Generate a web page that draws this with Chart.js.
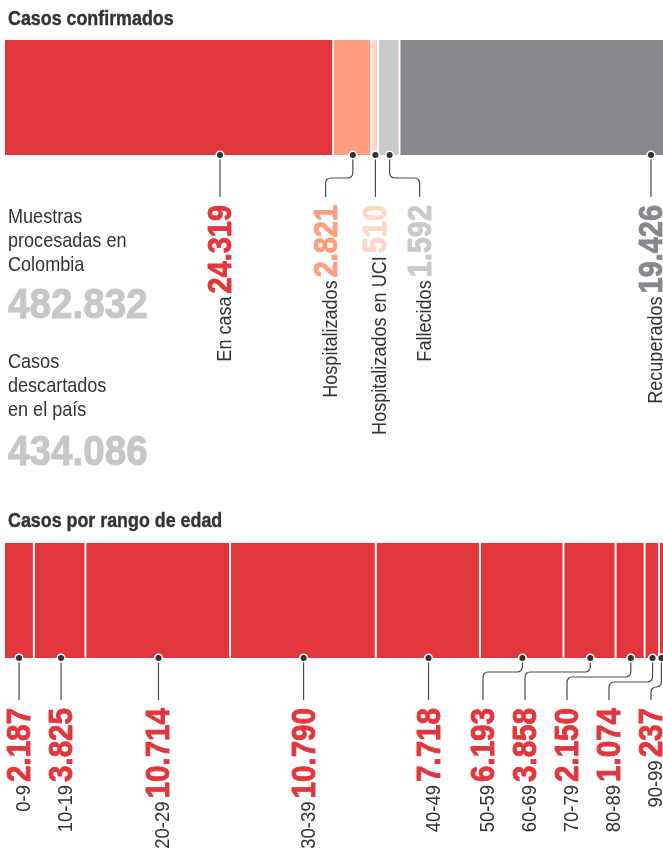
<!DOCTYPE html>
<html lang="es">
<head>
<meta charset="utf-8">
<script src="https://cdn.jsdelivr.net/npm/chart.js@4.4.1/dist/chart.umd.min.js"></script>
<style>
  html, body { margin: 0; padding: 0; background: #fff; }
  body {
    width: 663px; height: 855px; position: relative; overflow: hidden;
    font-family: "Liberation Sans", Arial, sans-serif;
    color: #333;
  }
  canvas { position: absolute; left: 0; }
  .title, .note, .big { position: absolute; white-space: nowrap; transform-origin: 0 0; z-index: 2; }
  .title { left: 8px; font-weight: bold; font-size: 21px; line-height: 21px; transform: scaleX(0.85); -webkit-text-stroke: 0.4px #333; }
  .note { left: 8px; font-size: 21px; line-height: 24px; transform: scaleX(0.86); }
  .big { left: 8px; font-size: 42px; line-height: 42px; font-weight: bold; color: #c6c7c9; transform: scaleX(0.92); -webkit-text-stroke: 1px #c6c7c9; }
</style>
</head>
<body>
<div class="title" style="top:7px">Casos confirmados</div>
<div class="note" style="top:204px">Muestras<br>procesadas en<br>Colombia</div>
<div class="big" id="muestras" style="top:283px"></div>
<div class="note" style="top:349px">Casos<br>descartados<br>en el país</div>
<div class="big" id="descartados" style="top:430px"></div>
<div class="title" style="top:509px">Casos por rango de edad</div>

<canvas id="estado-chart" width="663" height="470" style="top:0"></canvas>
<canvas id="edad-chart" width="663" height="355" style="top:500px"></canvas>

<script>
// ── Data ─────────────────────────────────────────────────────
const estadoLabels = ['En casa', 'Hospitalizados', 'Hospitalizados en UCI', 'Fallecidos', 'Recuperados'];
const estadoValues = [24319, 2821, 510, 1592, 19426];
const estadoColors = ['#e2363d', '#ff9d7e', '#ffd6c7', '#c9cacc', '#87888c'];

const edadLabels = ['0-9', '10-19', '20-29', '30-39', '40-49', '50-59', '60-69', '70-79', '80-89', '90-99'];
const edadValues = [2187, 3825, 10714, 10790, 7718, 6193, 3858, 2150, 1074, 237];

const muestrasProcesadas = 482832;
const casosDescartados = 434086;

const FONT = '"Liberation Sans", Arial, sans-serif';

// 24319 -> 24.319
function fmt(n) {
    return String(n).replace(/\B(?=(\d{3})+(?!\d))/g, '.');
}

document.getElementById('muestras').textContent = fmt(muestrasProcesadas);
document.getElementById('descartados').textContent = fmt(casosDescartados);

// Push label columns apart so they don't overlap, keep clusters centred on their dots
function spreadLabels(xs, gap, minX, maxX) {
    const place = g => {
        const start = g.sum / g.n - (g.n - 1) * gap / 2;
        g.start = Math.min(Math.max(start, minX), maxX - (g.n - 1) * gap);
    };
    const groups = xs.map(x => ({ n: 1, sum: x }));
    groups.forEach(place);
    let merged = true;
    while (merged) {
        merged = false;
        for (let i = 0; i < groups.length - 1; i++) {
            const a = groups[i], b = groups[i + 1];
            if (a.start + a.n * gap > b.start) {
                a.n += b.n; a.sum += b.sum; place(a);
                groups.splice(i + 1, 1);
                merged = true;
                break;
            }
        }
    }
    const out = [];
    groups.forEach(g => { for (let k = 0; k < g.n; k++) out.push(g.start + k * gap); });
    return out;
}

// text squeezed along its reading direction (no condensed font installed)
function condensedText(ctx, text, x, y, sx, heavy) {
    ctx.save();
    ctx.translate(x, y);
    ctx.scale(sx, 1);
    if (heavy) {
        ctx.lineWidth = heavy;
        ctx.strokeStyle = ctx.fillStyle;
        ctx.lineJoin = 'round';
        ctx.strokeText(text, 0, 0);
    }
    ctx.fillText(text, 0, 0);
    ctx.restore();
    return ctx.measureText(text).width * sx;
}

// ── Callouts: dots, leader lines, rotated labels ─────────────
const calloutPlugin = {
    id: 'callouts',
    afterDatasetsDraw(chart, args, opts) {
        const ctx = chart.ctx;
        const bars = chart.data.datasets.map((d, i) => chart.getDatasetMeta(i).data[0].getProps(['x', 'base', 'y', 'height'], true));
        const bottom = bars[0].y + bars[0].height / 2;
        const dotX = bars.map(b => (b.x + b.base) / 2);
        let labX = spreadLabels(dotX, opts.gap, opts.minX, opts.maxX);
        if (opts.pinLast) labX[labX.length - 1] = opts.maxX;
        labX = labX.map((x, i) => {
            const b = bars[i];
            // label still over its own segment: move the dot under it, straight leader
            if (x > b.base + 6 && x < b.x - 6) dotX[i] = x;
            return Math.abs(x - dotX[i]) < 4 ? dotX[i] : x;
        });

        const endY = bottom + 42;
        const textTop = bottom + 50;

        // leader lines
        ctx.save();
        ctx.strokeStyle = '#4a4a4a';
        ctx.lineWidth = 1.2;
        let run = 0;
        labX.forEach((lx, i) => {
            const dx = dotX[i];
            ctx.beginPath();
            ctx.moveTo(dx, bottom);
            if (lx === dx) {
                run = 0;
                ctx.lineTo(dx, endY);
            } else {
                const ey = bottom + opts.elbow + opts.step * Math.max(0, run - 1);
                run++;
                const r = Math.min(5, Math.abs(dx - lx) / 2);
                ctx.arcTo(dx, ey, lx, ey, r);
                ctx.arcTo(lx, ey, lx, endY, r);
                ctx.lineTo(lx, endY);
            }
            ctx.stroke();
        });
        ctx.restore();

        // dots
        ctx.save();
        dotX.forEach(dx => {
            ctx.beginPath();
            ctx.arc(dx, bottom, 3.8, 0, Math.PI * 2);
            ctx.fillStyle = '#333';
            ctx.fill();
            ctx.lineWidth = 1.5;
            ctx.strokeStyle = '#fff';
            ctx.stroke();
        });
        ctx.restore();

        // rotated labels, reading bottom to top
        chart.data.datasets.forEach((ds, i) => {
            ctx.save();
            ctx.translate(labX[i] + 11, textTop);
            ctx.rotate(-Math.PI / 2);
            ctx.textAlign = 'right';
            ctx.textBaseline = 'alphabetic';
            ctx.font = 'bold 34px ' + FONT;
            ctx.fillStyle = ds.backgroundColor;
            const w = condensedText(ctx, fmt(ds.data[0]), 0, 0, opts.valueScale, 0.9);
            ctx.font = '21px ' + FONT;
            ctx.fillStyle = '#333';
            condensedText(ctx, ds.label, -w - 3, 0, opts.labelScale, 0);
            ctx.restore();
        });
    }
};

function makeStackedBar(canvasId, labels, values, colors, padding, callouts) {
    const total = values.reduce((a, b) => a + b, 0);
    const last = values.length - 1;
    return new Chart(document.getElementById(canvasId), {
        type: 'bar',
        data: {
            labels: [''],
            datasets: values.map((v, i) => ({
                label: labels[i],
                data: [v],
                backgroundColor: Array.isArray(colors) ? colors[i] : colors,
                borderColor: '#fff',
                borderWidth: { left: 0, right: i === last ? 0 : 2, top: 0, bottom: 0 },
                borderSkipped: false,
                barPercentage: 1,
                categoryPercentage: 1,
            })),
        },
        options: {
            indexAxis: 'y',
            responsive: false,
            animation: false,
            layout: { padding },
            plugins: {
                legend: { display: false },
                tooltip: { enabled: false },
                callouts,
            },
            scales: {
                x: { stacked: true, display: false, min: 0, max: total },
                y: { stacked: true, display: false },
            },
        },
        plugins: [calloutPlugin],
    });
}

// ── Boot ─────────────────────────────────────────────────────
makeStackedBar('estado-chart', estadoLabels, estadoValues, estadoColors,
    { left: 5, right: 0, top: 40, bottom: 315 },
    { gap: 47, minX: 220, maxX: 651, pinLast: true, elbow: 23, step: 0, valueScale: 0.85, labelScale: 0.86 });

makeStackedBar('edad-chart', edadLabels, edadValues, '#e2363d',
    { left: 5, right: 0, top: 43, bottom: 197 },
    { gap: 42, minX: 12, maxX: 651, pinLast: false, elbow: 14, step: 5, valueScale: 0.87, labelScale: 0.88 });
</script>
</body>
</html>
